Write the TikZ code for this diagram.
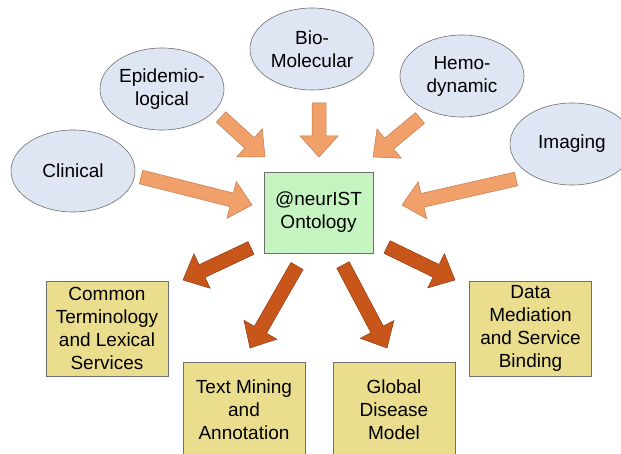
\documentclass[tikz,border=0pt]{standalone}
\usepackage{fontspec}
\setmainfont{Liberation Sans}
\usetikzlibrary{shapes.geometric,calc}
\definecolor{ellfill}{HTML}{DEE6F4}
\definecolor{ellline}{HTML}{6E6E6E}
\definecolor{ontofill}{HTML}{C6F4C0}
\definecolor{boxfill}{HTML}{EADE8E}
\definecolor{boxline}{HTML}{707070}
\definecolor{inarrow}{HTML}{F2A06A}
\definecolor{inarrowline}{HTML}{C07A50}
\definecolor{outarrow}{HTML}{C8561A}
\definecolor{outarrowline}{HTML}{8E3A10}
\newcommand\blockarr[3]{%
  \filldraw[#1] let \p1=($(#3)-(#2)$), \n1={atan2(\y1,\x1)}, \n2={veclen(\x1,\y1)} in
    [shift={(#2)}, rotate=\n1]
    (0,-7) -- (\n2-21,-7) -- (\n2-21,-19) -- (\n2,0) -- (\n2-21,19) -- (\n2-21,7) -- (0,7) -- cycle;}
\begin{document}
\begin{tikzpicture}[x=1pt,y=-1pt,
  every node/.style={font=\fontsize{19}{23}\selectfont, align=center, inner sep=0pt},
  src/.style={ellipse, draw=ellline, line width=0.6pt, fill=ellfill, minimum width=124pt, minimum height=82pt},
  onto/.style={rectangle, draw=boxline, line width=0.8pt, fill=ontofill, minimum width=109pt, minimum height=81pt},
  target/.style={rectangle, draw=boxline, line width=0.8pt, fill=boxfill, minimum width=122pt, minimum height=95pt},
  inarr/.style={fill=inarrow, draw=inarrowline, line width=0.5pt},
  outarr/.style={fill=outarrow, draw=outarrowline, line width=0.5pt}]
\useasboundingbox (0,0) rectangle (621,454);
\clip (0,0) rectangle (621,454);
% sources
\node[src] (bio) at (312,49) {Bio-\\Molecular};
\node[src] (epi) at (162,89) {Epidemio-\\logical};
\node[src] (hemo) at (462,76) {Hemo-\\dynamic};
\node[src] (clin) at (73,171) {Clinical};
\node[src] (img) at (572,144) {Imaging};
% ontology
\node[onto] (ont) at (318.5,212.5) {@neurIST\\Ontology};
% targets
\node[target] (common) at (107,328.5) {Common\\Terminology\\and Lexical\\Services};
\node[target] (text) at (244,409.5) {Text Mining\\and\\Annotation};
\node[target] (global) at (394,409.5) {Global\\Disease\\Model};
\node[target] (data) at (530.5,328.5) {Data\\Mediation\\and Service\\Binding};
% arrow end points
\coordinate (epiS) at (221,117);  \coordinate (epiE) at (265,157);
\coordinate (bioS) at (319,103);  \coordinate (bioE) at (319,157);
\coordinate (hemoS) at (420,118); \coordinate (hemoE) at (373,157);
\coordinate (clinS) at (141,177); \coordinate (clinE) at (252,205);
\coordinate (imgS) at (516,179);  \coordinate (imgE) at (402,205);
\coordinate (comS) at (251,248);  \coordinate (comE) at (183,280);
\coordinate (txtS) at (297,266);  \coordinate (txtE) at (250,348);
\coordinate (gloS) at (343,265);  \coordinate (gloE) at (387,348);
\coordinate (datS) at (387,247);  \coordinate (datE) at (455,280);
% incoming arrows
\blockarr{inarr}{epiS}{epiE}
\blockarr{inarr}{bioS}{bioE}
\blockarr{inarr}{hemoS}{hemoE}
\blockarr{inarr}{clinS}{clinE}
\blockarr{inarr}{imgS}{imgE}
% outgoing arrows
\blockarr{outarr}{comS}{comE}
\blockarr{outarr}{txtS}{txtE}
\blockarr{outarr}{gloS}{gloE}
\blockarr{outarr}{datS}{datE}
\end{tikzpicture}
\end{document}
